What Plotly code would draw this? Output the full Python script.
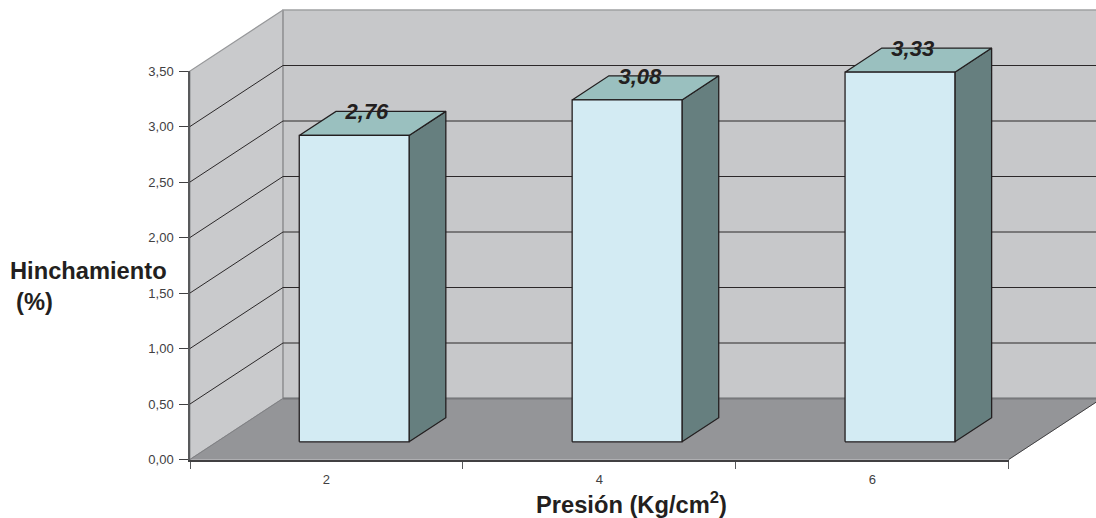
import plotly.graph_objects as go

# Chart values
categories = ["2", "4", "6"]
swelling = [2.76, 3.08, 3.33]
value_ticks = [0.0, 0.5, 1.0, 1.5, 2.0, 2.5, 3.0, 3.5]

# Canvas and oblique-projection settings, in pixels
W, H = 1096, 518
LEFT, RIGHT, BASE, TOP = 190.0, 1008.7, 459.5, 71.0
CAT_PX = (RIGHT - LEFT) / len(categories)
VAL_PX = (BASE - TOP) / 3.5
DEPTH_X = 93.0 / CAT_PX   # category units shifted per unit of depth
DEPTH_Y = 61.0 / VAL_PX   # value units shifted per unit of depth

# Bar placement inside a category slot and inside the floor depth
BAR_X0, BAR_X1 = 0.3015, 0.704
BAR_Z0, BAR_Z1 = 0.29, 0.685

INK = "#231f20"
FONT = "Liberation Sans, Arial, sans-serif"


def proj(x, v, z):
    return x + z * DEPTH_X, v + z * DEPTH_Y


def poly(points, fill, line, width=1.0):
    pts = [proj(*p) for p in points]
    pts.append(pts[0])
    return go.Scatter(
        x=[p[0] for p in pts], y=[p[1] for p in pts], mode="lines",
        fill="toself", fillcolor=fill, line=dict(color=line, width=width),
        hoverinfo="skip", showlegend=False, xaxis="x", yaxis="y",
    )


def path(points, color, width=1.0):
    pts = [proj(*p) for p in points]
    return go.Scatter(
        x=[p[0] for p in pts], y=[p[1] for p in pts], mode="lines",
        line=dict(color=color, width=width),
        hoverinfo="skip", showlegend=False, xaxis="x", yaxis="y",
    )


n = len(categories)
vmax = value_ticks[-1]
traces = []

# Walls and floor of the box
traces.append(poly([(0, 0, 0), (0, vmax, 0), (0, vmax, 1), (0, 0, 1)], "#c9cacc", "#97989a", 1.2))
traces.append(poly([(0, 0, 1), (0, vmax, 1), (n, vmax, 1), (n, 0, 1)], "#c7c8ca", "#a0a1a3", 1.5))
traces.append(poly([(0, 0, 0), (n, 0, 0), (n, 0, 1), (0, 0, 1)], "#949598", "#949598", 0.5))
traces.append(path([(0, vmax, 1), (0, 0, 1)], "#98999b", 1.5))
traces.append(path([(0, 0, 1), (n, 0, 1)], "#77787b", 2))
traces.append(path([(0, 0, 0), (0, 0, 1)], "#808184", 1))
traces.append(path([(n, 0, 0), (n, 0, 1)], "#414042", 1))

# Gridlines run across the side wall and then the back wall
for v in value_ticks[1:-1]:
    traces.append(path([(0, v, 0), (0, v, 1), (n, v, 1)], "#2b2829", 1))

# Bars: side, top, then front face
for i, v in enumerate(swelling):
    x0, x1 = i + BAR_X0, i + BAR_X1
    traces.append(poly([(x1, 0, BAR_Z0), (x1, v, BAR_Z0), (x1, v, BAR_Z1), (x1, 0, BAR_Z1)], "#667f7f", "#231f20", 1.3))
    traces.append(poly([(x0, v, BAR_Z0), (x1, v, BAR_Z0), (x1, v, BAR_Z1), (x0, v, BAR_Z1)], "#9ac0bf", "#231f20", 1.3))
    traces.append(poly([(x0, 0, BAR_Z0), (x1, 0, BAR_Z0), (x1, v, BAR_Z0), (x0, v, BAR_Z0)], "#d3ebf3", "#231f20", 1.3))

# Value labels sit on the rear edge of each bar top
label_pts = [proj(i + 0.5 - 0.085, v - 0.022, BAR_Z1) for i, v in enumerate(swelling)]
traces.append(go.Scatter(
    x=[p[0] for p in label_pts], y=[p[1] for p in label_pts], mode="text",
    text=[f"{v:.2f}".replace(".", ",") for v in swelling],
    textposition="middle center",
    textfont=dict(family=FONT, size=22, color=INK, weight="bold", style="italic"),
    hoverinfo="skip", showlegend=False, cliponaxis=False, xaxis="x", yaxis="y",
))

# Invisible trace that carries the visible axes
traces.append(go.Scatter(
    x=[0.5, 1.5, 2.5], y=swelling, mode="markers", marker=dict(opacity=0, size=1),
    hoverinfo="skip", showlegend=False, xaxis="x2", yaxis="y2",
))

fig = go.Figure(traces)
fig.update_layout(
    width=W, height=H,
    margin=dict(l=0, r=0, t=0, b=0, autoexpand=False),
    paper_bgcolor="white", plot_bgcolor="rgba(0,0,0,0)",
    separators=",.",
    showlegend=False,
    font=dict(family=FONT, color=INK),
    # Full-canvas scale for the projected box
    xaxis=dict(domain=[0, 1], range=[-LEFT / CAT_PX, (W - LEFT) / CAT_PX], visible=False, fixedrange=True),
    yaxis=dict(domain=[0, 1], range=[(BASE - H) / VAL_PX, BASE / VAL_PX], visible=False, fixedrange=True),
    # Visible front axes, same scale, limited to the front plane
    xaxis2=dict(
        domain=[LEFT / W, RIGHT / W], range=[0, n], anchor="y2",
        tickmode="array", tickvals=[0.5, 1.5, 2.5], ticktext=categories,
        ticks="", ticklabelstandoff=7, tickfont=dict(family=FONT, size=13, color="#414042"),
        minor=dict(tickmode="array", tickvals=[0, 1, 2, 3], ticks="outside", ticklen=7, tickwidth=1, tickcolor="#58595b"),
        showgrid=False, zeroline=False, showline=True, linecolor="#414042", linewidth=2, fixedrange=True,
    ),
    yaxis2=dict(
        domain=[(H - BASE) / H, (H - TOP) / H], range=[0, vmax], anchor="x2",
        tickmode="array", tickvals=value_ticks, tickformat=".2f",
        ticks="outside", ticklen=9, tickwidth=1, tickcolor="#414042",
        ticklabelstandoff=3, tickfont=dict(family=FONT, size=13, color="#414042"),
        showgrid=False, zeroline=False, showline=True, linecolor="#58595b", linewidth=1.5, fixedrange=True,
    ),
    annotations=[
        dict(text="Hinchamiento", xref="paper", yref="paper", x=88 / W, y=1 - 271 / H,
             xanchor="center", yanchor="middle", showarrow=False,
             font=dict(family=FONT, size=23.7, color=INK, weight="bold")),
        dict(text="(%)", xref="paper", yref="paper", x=34 / W, y=1 - 302 / H,
             xanchor="center", yanchor="middle", showarrow=False,
             font=dict(family=FONT, size=23.7, color=INK, weight="bold")),
        dict(text="Presión (Kg/cm<sup>2</sup>)", xref="paper", yref="paper", x=631.5 / W, y=1 - 503 / H,
             xanchor="center", yanchor="middle", showarrow=False,
             font=dict(family=FONT, size=23.7, color=INK, weight="bold")),
    ],
)

fig.write_html("out.html", config={"displayModeBar": False})
